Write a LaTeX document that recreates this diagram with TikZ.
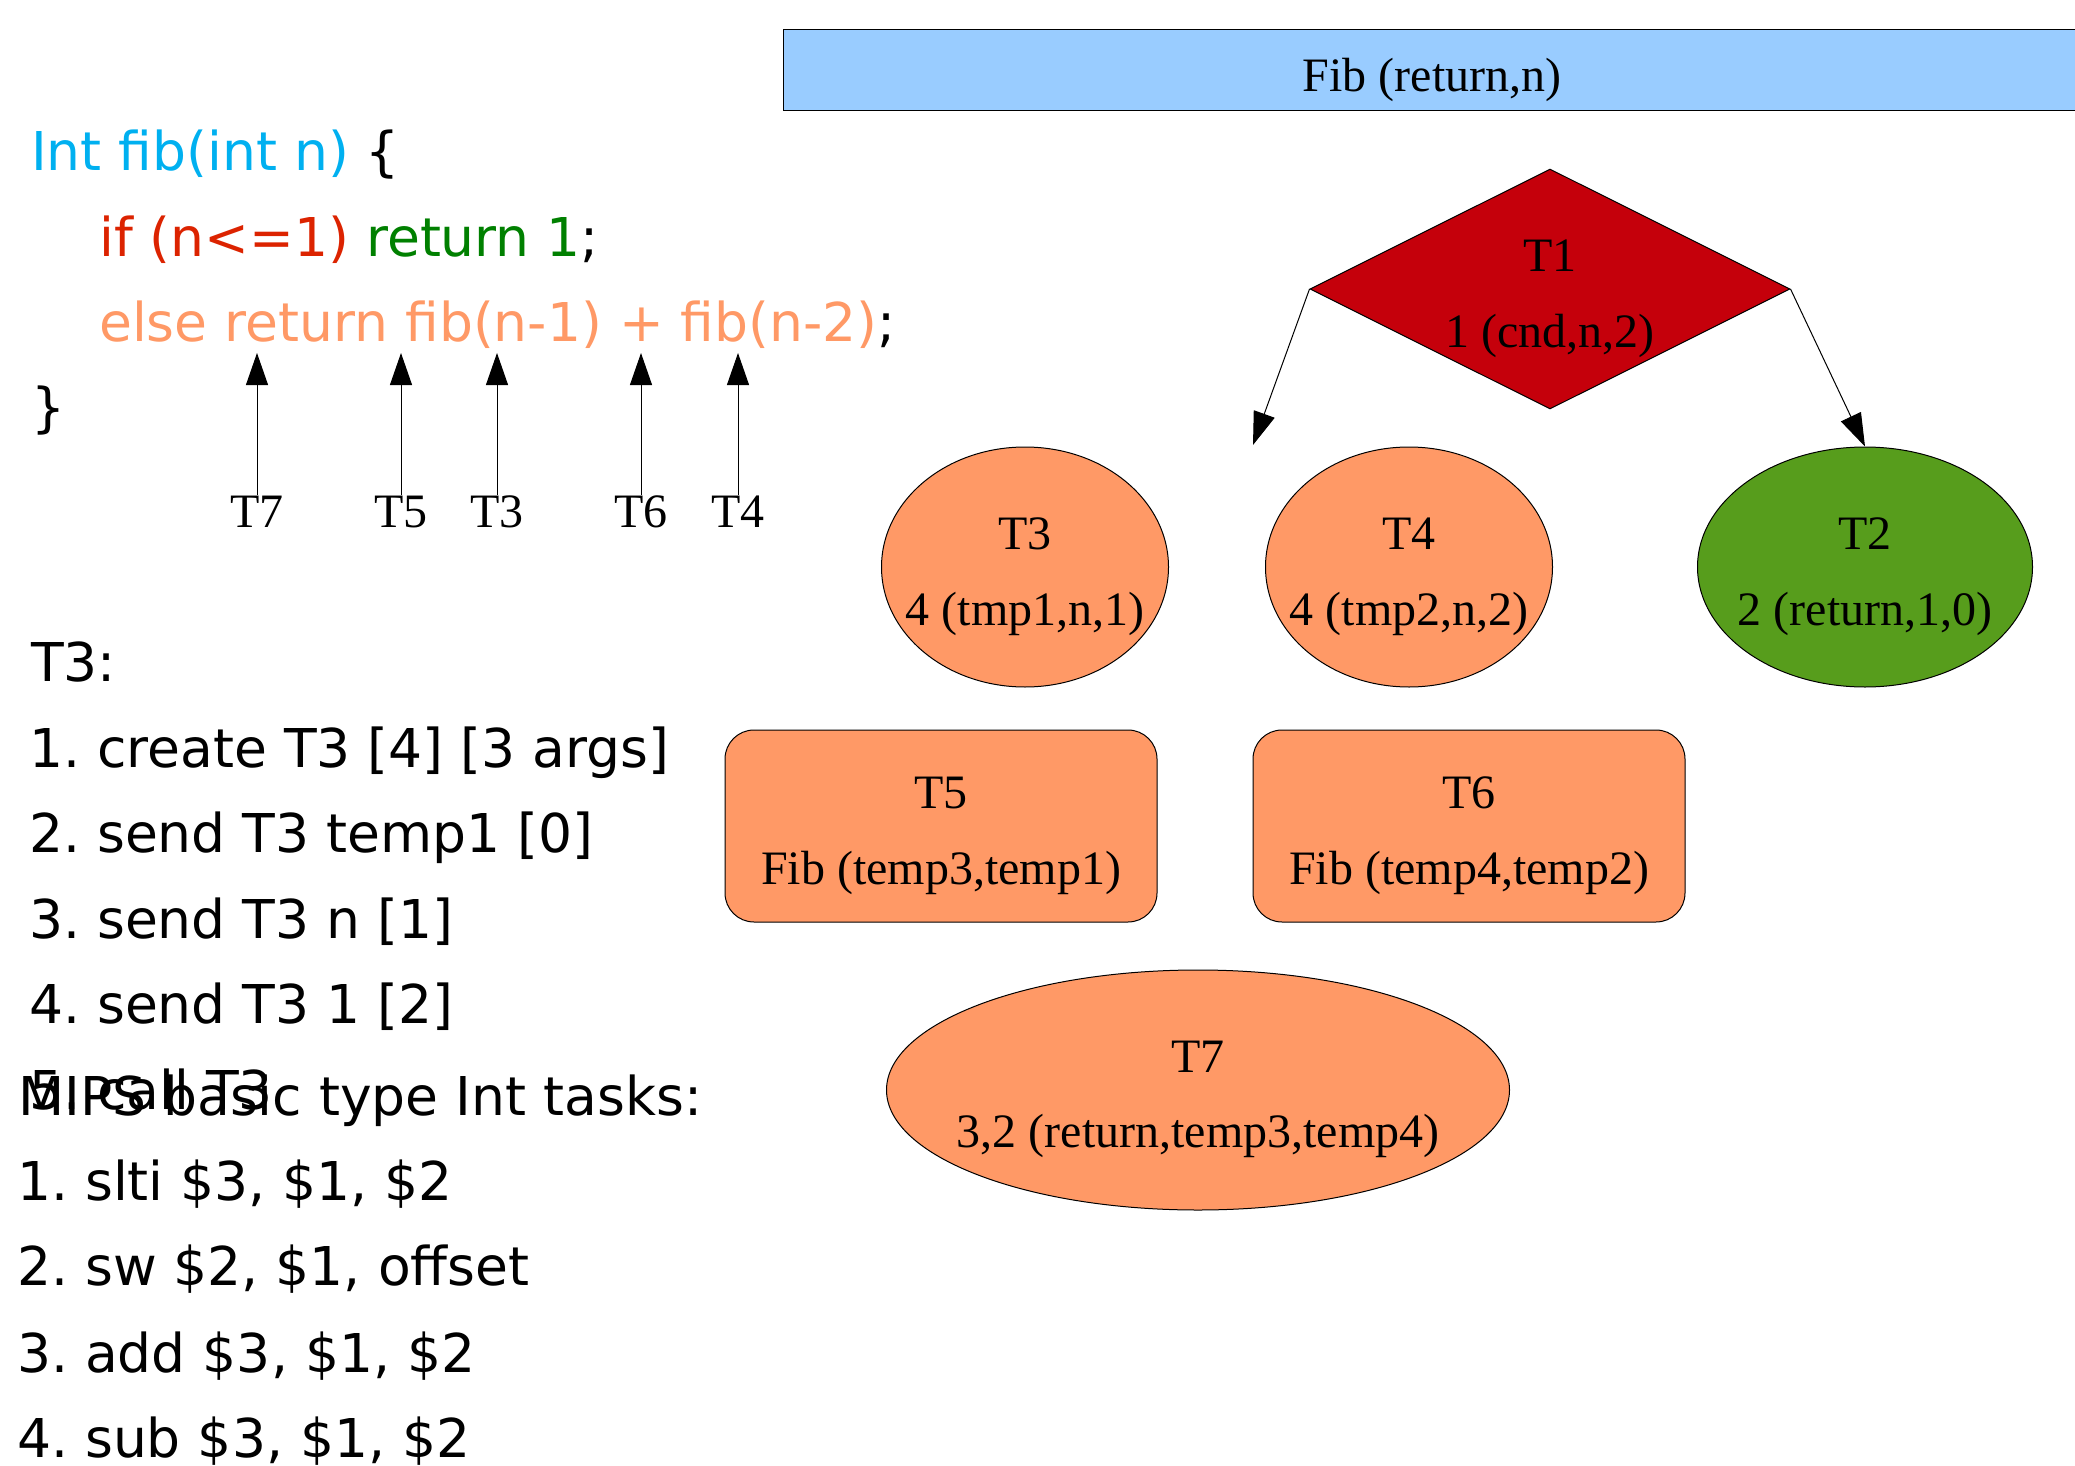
\documentclass[tikz,border=0pt]{standalone}
\usepackage{fontspec}
\setmainfont{Liberation Serif}
\newfontfamily\dejavu{DejaVu Sans}
\usetikzlibrary{shapes.geometric,arrows.meta}
\frenchspacing
\definecolor{codecyan}{HTML}{00B0F0}
\definecolor{codered}{HTML}{DC2300}
\definecolor{codegreen}{HTML}{008000}
\definecolor{codeorange}{HTML}{FF9966}
\definecolor{orangefill}{HTML}{FF9966}
\definecolor{darkredfill}{HTML}{C5000B}
\definecolor{leafgreen}{HTML}{579D1C}
\definecolor{skyblue}{HTML}{99CCFF}
\begin{document}
\begin{tikzpicture}[x=1pt,y=-1pt,
  code/.style={font=\dejavu\fontsize{53.5}{64}\selectfont\frenchspacing, anchor=base west, inner sep=0pt},
  lbl/.style={font=\fontsize{48}{58}\selectfont, anchor=base, inner sep=0pt},
  shapeline/.style={draw=black, line width=1pt},
  taskell/.style={shapeline, ellipse, inner sep=0pt},
  taskbox/.style={shapeline, rectangle, rounded corners=29pt, inner sep=0pt, fill=orangefill, minimum width=432pt, minimum height=192pt},
  uparrow/.style={line width=1pt, -{Triangle[length=32pt,width=22pt]}},
  flowarrow/.style={line width=1pt, -{Triangle[length=33pt,width=22pt]}}
]
\useasboundingbox (0,0) rectangle (2075,1466);
\fill[white] (0,0) rectangle (2075,1466);

% code
\node[code] (c1) at (31,171) {\textcolor{codecyan}{Int fib(int n)} \{};
\node[code] (c2) at (99,256) {\textcolor{codered}{if (n<=1)} \textcolor{codegreen}{return 1};};
\node[code] (c3) at (99,341) {\textcolor{codeorange}{else return fib(n-1) + fib(n-2)};};
\node[code] (c4) at (31,426) {\}};

% code arrows
\foreach \nm/\xx in {T7/257,T5/401,T3/497,T6/641,T4/738}{
  \node[lbl] (l\nm) at (\xx,527) {\nm};
  \coordinate (p\nm) at (\xx,353);
  \draw[uparrow] (l\nm.north) -- (p\nm);
}

% T3 list
\node[code] (s0) at (31,681) {T3:};
\node[code] (s1) at (29,767) {1. create T3 [4] [3 args]};
\node[code] (s2) at (29,852) {2. send T3 temp1 [0]};
\node[code] (s3) at (29,938) {3. send T3 n [1]};
\node[code] (s4) at (29,1023) {4. send T3 1 [2]};
\node[code] (s5) at (29,1109) {5. call T3};
\node[code] (m0) at (18,1115) {MIPS basic type Int tasks:};
\node[code] (m1) at (17,1200) {1. slti \$3, \$1, \$2};
\node[code] (m2) at (17,1285) {2. sw \$2, \$1, offset};
\node[code] (m3) at (17,1372) {3. add \$3, \$1, \$2};
\node[code] (m4) at (17,1457) {4. sub \$3, \$1, \$2};

% header box
\node[shapeline, fill=skyblue, rectangle, inner sep=0pt, minimum width=1298pt, minimum height=81pt] (hdr) at (1432,70.5) {};
\node[lbl] (hdrt) at (1432,92) {Fib (return,n)};

% T1 diamond
\node[shapeline, fill=darkredfill, diamond, inner sep=0pt, minimum width=480pt, minimum height=240pt] (T1) at (1550,289) {};
\node[lbl] (T1a) at ([yshift=18pt]T1.center) {T1};
\node[lbl] (T1b) at ([yshift=-58pt]T1.center) {1 (cnd,n,2)};

% ellipses
\node[taskell, fill=orangefill, minimum width=287pt, minimum height=240pt] (T3) at (1025,567) {};
\node[lbl] (T3a) at ([yshift=18pt]T3.center) {T3};
\node[lbl] (T3b) at ([yshift=-58pt]T3.center) {4 (tmp1,n,1)};

\node[taskell, fill=orangefill, minimum width=287pt, minimum height=240pt] (T4) at (1409,567) {};
\node[lbl] (T4a) at ([yshift=18pt]T4.center) {T4};
\node[lbl] (T4b) at ([yshift=-58pt]T4.center) {4 (tmp2,n,2)};

\node[taskell, fill=leafgreen, minimum width=335pt, minimum height=240pt] (T2) at (1865,567) {};
\node[lbl] (T2a) at ([yshift=18pt]T2.center) {T2};
\node[lbl] (T2b) at ([yshift=-58pt]T2.center) {2 (return,1,0)};

% rounded boxes
\node[taskbox] (T5) at (941,826) {};
\node[lbl] (T5a) at ([yshift=18pt]T5.center) {T5};
\node[lbl] (T5b) at ([yshift=-58pt]T5.center) {Fib (temp3,temp1)};

\node[taskbox] (T6) at (1469,826) {};
\node[lbl] (T6a) at ([yshift=18pt]T6.center) {T6};
\node[lbl] (T6b) at ([yshift=-58pt]T6.center) {Fib (temp4,temp2)};

% T7
\node[taskell, fill=orangefill, minimum width=623pt, minimum height=240pt] (T7) at (1198,1090) {};
\node[lbl] (T7a) at ([yshift=18pt]T7.center) {T7};
\node[lbl] (T7b) at ([yshift=-57pt]T7.center) {3,2 (return,temp3,temp4)};

% diamond arrows
\coordinate (lefttip) at (1253,445);
\draw[flowarrow] (T1.west) -- (lefttip);
\draw[flowarrow] (T1.east) -- (T2.north);
\end{tikzpicture}
\end{document}
